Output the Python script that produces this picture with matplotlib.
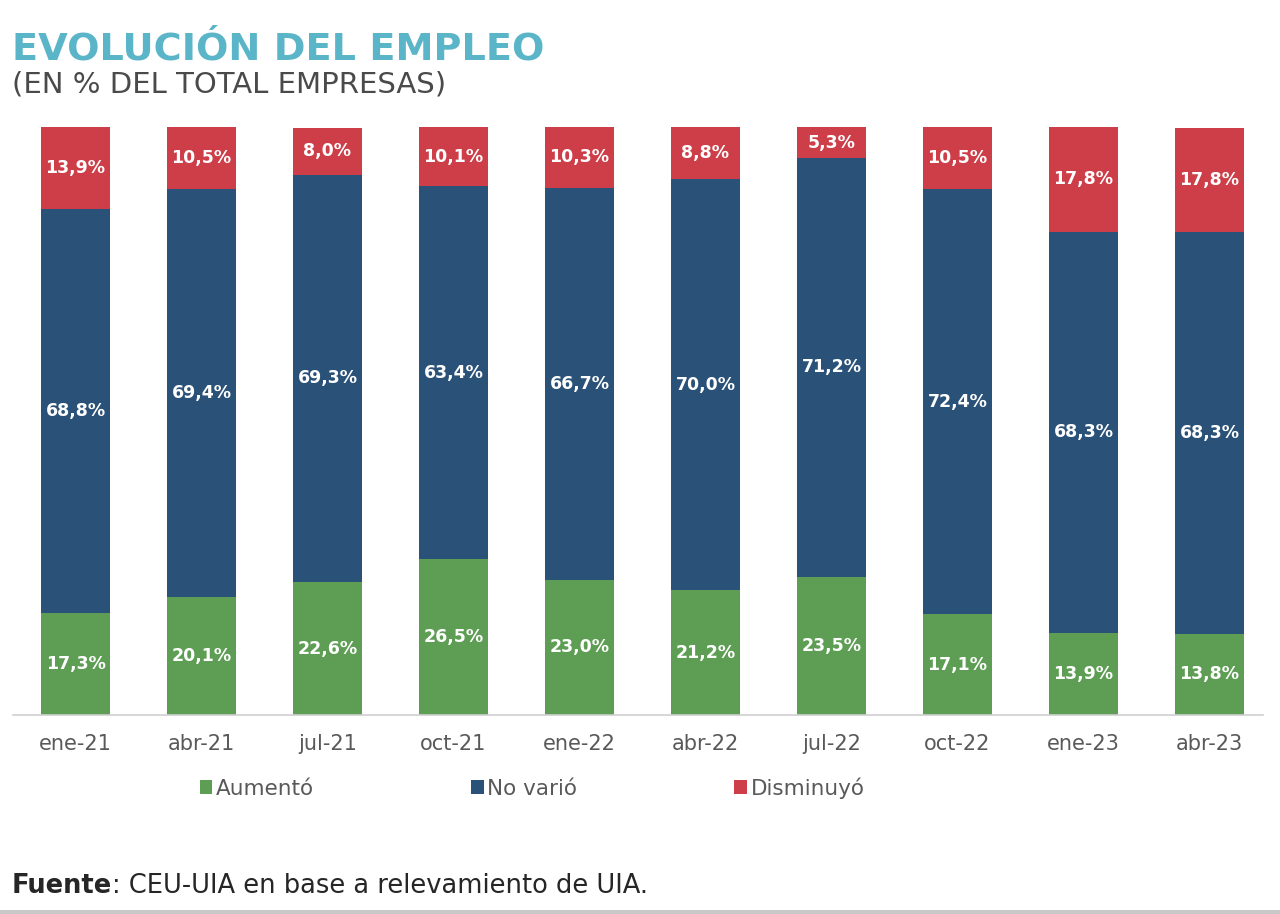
import matplotlib
matplotlib.use("Agg")
import matplotlib.pyplot as plt
from matplotlib.patches import Patch, Rectangle
import numpy as np

categories = ["ene-21", "abr-21", "jul-21", "oct-21", "ene-22", "abr-22", "jul-22", "oct-22", "ene-23", "abr-23"]
aumento = [17.3, 20.1, 22.6, 26.5, 23.0, 21.2, 23.5, 17.1, 13.9, 13.8]
no_vario = [68.8, 69.4, 69.3, 63.4, 66.7, 70.0, 71.2, 72.4, 68.3, 68.3]
disminuyo = [13.9, 10.5, 8.0, 10.1, 10.3, 8.8, 5.3, 10.5, 17.8, 17.8]
series_names = ["Aumentó", "No varió", "Disminuyó"]
colors = ["#5E9E54", "#2A5177", "#CD3E48"]

plt.rcParams['font.family'] = ['DejaVu Sans']

fig = plt.figure(figsize=(12.8, 9.14), dpi=100)
ax = fig.add_axes([12.5/1280, 1-715/914, 1260/1280, (715-127)/914])

x = np.arange(len(categories))
w = 0.555
bottom = np.zeros(len(categories))
for vals, col in zip([aumento, no_vario, disminuyo], colors):
    vals = np.array(vals)
    ax.bar(x, vals, w, bottom=bottom, color=col, linewidth=0)
    for xi, b, v in zip(x, bottom, vals):
        ax.text(xi, b + v/2, f"{v:.1f}".replace(".", ",") + "%", ha="center", va="center",
                color="white", fontsize=12.5, fontweight="bold")
    bottom = bottom + vals

ax.set_xlim(-0.5, len(categories) - 0.5)
ax.set_ylim(0, 100)
ax.set_yticks([])
for s in ["top", "right", "left", "bottom"]:
    ax.spines[s].set_visible(False)
ax.axhline(0, xmin=0, xmax=(1263-12.5)/1260, color="#D0D0D0", linewidth=1.2, clip_on=False)
ax.set_xticks(x)
ax.set_xticklabels(categories, fontsize=15, color="#595959")
ax.tick_params(axis="x", length=0, pad=14)

handles = [Patch(facecolor=c, edgecolor="none") for c in colors]
fig.legend(handles, series_names, loc="center", bbox_to_anchor=(532/1280, 1-788/914),
           ncol=3, frameon=False, fontsize=15.5, handlelength=0.6, handleheight=0.6,
           handletextpad=0.15, columnspacing=7.3, labelcolor="#595959")

fig.text(12/1280, 1-60/914, "EVOLUCIÓN DEL EMPLEO", fontsize=27.5, fontweight="bold",
         color="#5BB5C8", ha="left", va="baseline")
fig.text(12/1280, 1-92/914, "(EN % DEL TOTAL EMPRESAS)", fontsize=21,
         color="#4A4A4A", ha="left", va="baseline")

t1 = fig.text(12/1280, 1-893/914, "Fuente", fontsize=18.5, fontweight="bold",
              color="#262626", ha="left", va="baseline")
fig.canvas.draw()
bb = t1.get_window_extent(renderer=fig.canvas.get_renderer())
fig.text(bb.x1/fig.bbox.width, 1-893/914, ": CEU-UIA en base a relevamiento de UIA.", fontsize=18.5,
         color="#262626", ha="left", va="baseline")

fig.add_artist(Rectangle((0, 0), 1, 4/914, transform=fig.transFigure, facecolor="#C8C8C8",
                         edgecolor="none"))

fig.savefig("out.png", dpi=100, facecolor="white")
